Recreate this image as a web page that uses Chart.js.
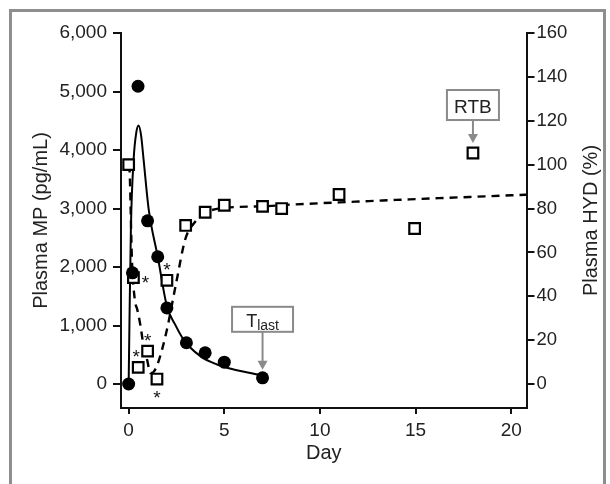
<!DOCTYPE html>
<html><head><meta charset="utf-8">
<script src="https://cdn.jsdelivr.net/npm/chart.js@4.4.1/dist/chart.umd.min.js"></script>
<style>html,body{margin:0;padding:0;background:#fff}#wrap{width:610px;height:484px;position:relative}</style>
</head><body><div id="wrap"><canvas id="c" width="610" height="484"></canvas></div>
<script>
// ---- Data ----
const mpDays   = [0, 0.2, 0.49, 0.99, 1.52, 2.0, 3.02, 4.0, 5.0, 7.0];
const mpValues = [0, 1900, 5090, 2790, 2175, 1300, 705, 533, 373, 106];

const fitDays   = [0, 0.04, 0.12, 0.26, 0.4, 0.52, 0.65, 0.78, 1.05, 1.52, 2.0, 2.44, 2.87, 3.75, 4.62, 5.49, 6.36, 7.0];
const fitValues = [0, 1000, 2700, 3840, 4300, 4420, 4250, 3840, 2980, 2180, 1330, 1010, 760, 476, 333, 248, 190, 145];

const hydDays   = [0, 0.25, 0.5, 0.99, 1.48, 2.0, 2.98, 4.0, 5.0, 7.0, 8.0, 11.0, 14.95, 18.0];
const hydValues = [100, 48.5, 7.6, 15, 2.3, 47.3, 72.3, 78.3, 81.5, 81, 80, 86.4, 70.9, 105.3];
const hydStars  = [null, 'right', 'aboveLeft', 'above', 'below', 'above', null, null, null, null, null, null, null, null];

const trendDays   = [0, 0.05, 0.17, 0.32, 0.45, 0.61, 0.77, 0.98, 1.13, 1.3, 1.53, 1.97, 2.5, 2.96, 3.48, 4.0, 5.0, 7.0, 8.5, 11.0, 15.0, 20.8];
const trendValues = [100, 97, 57, 38.6, 34, 27, 18, 10.5, 5, 5.5, 9.5, 23.6, 46.8, 66, 74, 78, 80.3, 81, 81.8, 82.8, 84.3, 86.3];

const leftTicks  = [0, 1000, 2000, 3000, 4000, 5000, 6000];
const rightTicks = [0, 20, 40, 60, 80, 100, 120, 140, 160];
const dayTicks   = [0, 5, 10, 15, 20];

const leftTitle  = 'Plasma MP (pg/mL)';
const rightTitle = 'Plasma HYD (%)';
const xTitle     = 'Day';

const callouts = [
  { text: 'T', sub: 'last', series: 'mp', index: 9 },
  { text: 'RTB', sub: '', series: 'hyd', index: 13 }
];

// ---- helpers ----
const FONT = '"Liberation Sans", Arial, Helvetica, sans-serif';
const pts = (xs, ys) => xs.map((d, i) => ({ x: d, y: ys[i] }));
const fmt = v => Number(v).toLocaleString('en-US');

const notes = {
  id: 'notes',
  beforeDraw(chart) {
    const c = chart.ctx;
    c.save();
    c.fillStyle = '#fff';
    c.fillRect(0, 0, chart.width, chart.height);
    c.strokeStyle = '#8e8e8e';
    c.lineWidth = 3;
    c.strokeRect(10.5, 10.5, 594, 500);
    c.restore();
  },
  afterDraw(chart) {
    const c = chart.ctx;
    const { x, yL, yR } = chart.scales;
    const area = chart.chartArea;

    // right axis title (reads bottom-to-top)
    c.save();
    c.translate(591, (area.top + area.bottom) / 2);
    c.rotate(-Math.PI / 2);
    c.font = '20px ' + FONT;
    c.fillStyle = '#222';
    c.textAlign = 'center';
    c.textBaseline = 'middle';
    c.fillText(rightTitle, 0, 0);
    c.restore();

    // significance asterisks
    c.save();
    c.font = '19px ' + FONT;
    c.fillStyle = '#111';
    c.textAlign = 'center';
    c.textBaseline = 'alphabetic';
    const off = { right: [12, 0], above: [0, -15], aboveLeft: [-2, -15], below: [0, 14] };
    hydStars.forEach((s, i) => {
      if (!s) return;
      const px = x.getPixelForValue(hydDays[i]) + off[s][0];
      const py = yR.getPixelForValue(hydValues[i]) + off[s][1];
      c.fillText('*', px, py + 11);
    });
    c.restore();

    // callout boxes with arrows
    callouts.forEach(co => {
      const isMp = co.series === 'mp';
      const px = x.getPixelForValue(isMp ? mpDays[co.index] : hydDays[co.index]);
      const py = isMp ? yL.getPixelForValue(mpValues[co.index]) : yR.getPixelForValue(hydValues[co.index]);
      const w = isMp ? 61 : 52, h = isMp ? 25 : 30;
      const gapBox = isMp ? 46 : 33;
      const tipGap = isMp ? 8 : 10;
      const bx = px - w / 2, by = py - gapBox - h;
      c.save();
      c.strokeStyle = '#8a8a8a';
      c.fillStyle = '#fff';
      c.lineWidth = 2;
      c.fillRect(bx, by, w, h);
      c.strokeRect(bx, by, w, h);
      // arrow
      const tipY = py - tipGap;
      c.beginPath();
      c.moveTo(px, by + h);
      c.lineTo(px, tipY - 7);
      c.stroke();
      c.fillStyle = '#8a8a8a';
      c.beginPath();
      c.moveTo(px - 5, tipY - 9);
      c.lineTo(px + 5, tipY - 9);
      c.lineTo(px, tipY);
      c.closePath();
      c.fill();
      // text
      c.fillStyle = '#222';
      c.textBaseline = 'alphabetic';
      if (co.sub) {
        c.font = '18px ' + FONT;
        const tw = c.measureText(co.text).width;
        c.font = '14px ' + FONT;
        const sw = c.measureText(co.sub).width;
        const start = px - (tw + sw) / 2;
        c.font = '18px ' + FONT;
        c.textAlign = 'left';
        c.fillText(co.text, start, by + 20);
        c.font = '14px ' + FONT;
        c.fillText(co.sub, start + tw, by + 23);
      } else {
        c.font = '19px ' + FONT;
        c.textAlign = 'center';
        c.fillText(co.text, px, by + 23);
      }
      c.restore();
    });
  }
};

const axisGrid = { drawOnChartArea: false, drawTicks: true, color: '#111', lineWidth: 2 };
const axisBorder = { display: true, color: '#111', width: 2 };

new Chart(document.getElementById('c'), {
  type: 'scatter',
  data: {
    datasets: [
      { label: 'MP', data: pts(mpDays, mpValues), yAxisID: 'yL', showLine: false,
        pointStyle: 'circle', pointRadius: 6.5, backgroundColor: '#000', borderColor: '#000', borderWidth: 0, order: 1 },
      { label: 'MP fit', data: pts(fitDays, fitValues), yAxisID: 'yL', showLine: true,
        pointRadius: 0, borderColor: '#000', borderWidth: 2, cubicInterpolationMode: 'monotone', order: 3 },
      { label: 'HYD', data: pts(hydDays, hydValues), yAxisID: 'yR', showLine: false,
        pointStyle: 'rect', pointRadius: 7.5, backgroundColor: '#fff', borderColor: '#000', borderWidth: 2.2, order: 2 },
      { label: 'HYD trend', data: pts(trendDays, trendValues), yAxisID: 'yR', showLine: true,
        pointRadius: 0, borderColor: '#000', borderWidth: 2.4, borderDash: [8, 6], cubicInterpolationMode: 'monotone', order: 4 }
    ]
  },
  options: {
    responsive: false,
    animation: false,
    events: [],
    layout: { padding: { left: 0, right: 0, top: 33, bottom: 0 } },
    plugins: { legend: { display: false }, tooltip: { enabled: false } },
    scales: {
      x: {
        type: 'linear', position: 'bottom', min: -0.4, max: 20.8,
        afterBuildTicks: s => { s.ticks = dayTicks.map(v => ({ value: v })); },
        afterFit: s => { s.height = 76; },
        grid: { ...axisGrid, tickLength: 6 },
        border: axisBorder,
        ticks: { color: '#222', font: { family: FONT, size: 19 }, padding: 5, maxRotation: 0, autoSkip: false },
        title: { display: true, text: xTitle, color: '#222', font: { family: FONT, size: 20 }, padding: { top: 0, bottom: 19 } }
      },
      yL: {
        type: 'linear', position: 'left', min: -410, max: 6000,
        afterBuildTicks: s => { s.ticks = leftTicks.map(v => ({ value: v })); },
        afterFit: s => { s.width = 121; },
        grid: { ...axisGrid, tickLength: 8 },
        border: axisBorder,
        ticks: { color: '#222', font: { family: FONT, size: 19 }, padding: 6, autoSkip: false, callback: v => fmt(v) },
        title: { display: true, text: leftTitle, color: '#222', font: { family: FONT, size: 20 }, padding: { top: 29, bottom: 0 } }
      },
      yR: {
        type: 'linear', position: 'right', min: -10.9, max: 160,
        afterBuildTicks: s => { s.ticks = rightTicks.map(v => ({ value: v })); },
        afterFit: s => { s.width = 83.5; },
        grid: { ...axisGrid, tickLength: 8 },
        border: axisBorder,
        ticks: { color: '#222', font: { family: FONT, size: 18.5 }, padding: 2, autoSkip: false }
      }
    }
  },
  plugins: [notes]
});
</script>
</body></html>
